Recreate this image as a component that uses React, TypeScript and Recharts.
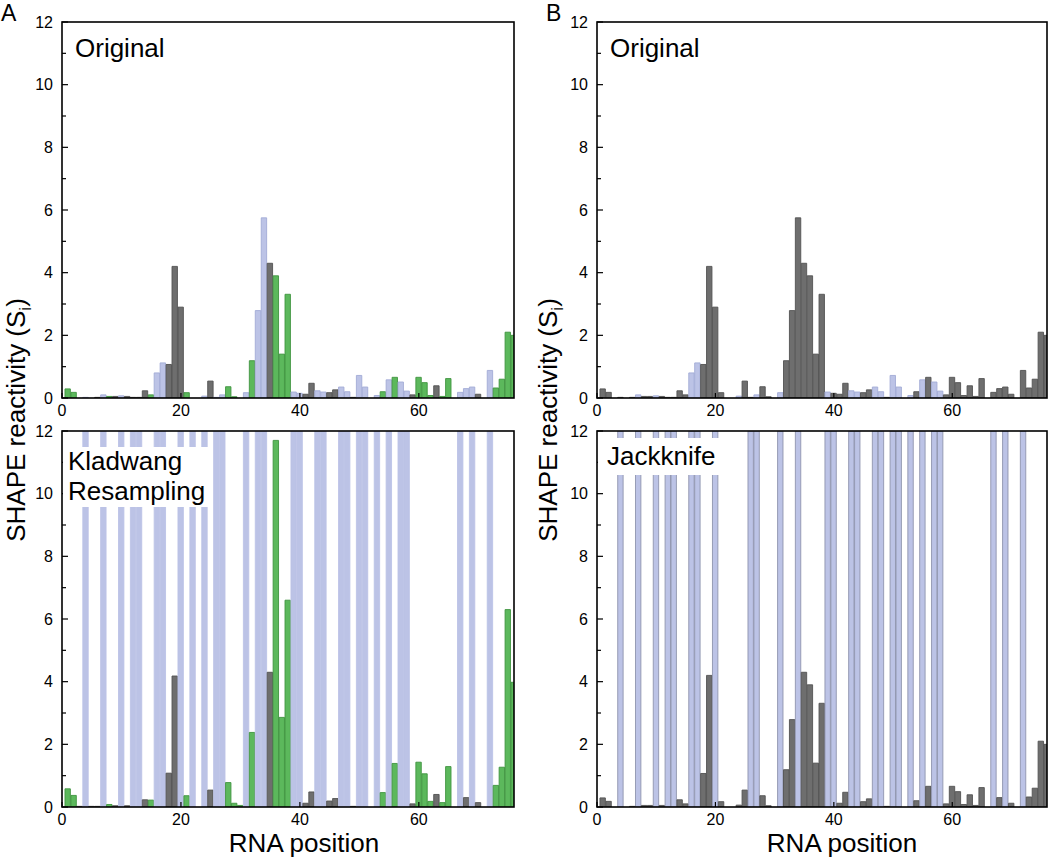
import React from 'react';
import { BarChart, Bar, XAxis, YAxis, Cell } from 'recharts';

// RNA positions (categories)
const positions = [
  1, 2, 3, 4, 5, 6, 7, 8, 9, 10,
  11, 12, 13, 14, 15, 16, 17, 18, 19, 20,
  21, 22, 23, 24, 25, 26, 27, 28, 29, 30,
  31, 32, 33, 34, 35, 36, 37, 38, 39, 40,
  41, 42, 43, 44, 45, 46, 47, 48, 49, 50,
  51, 52, 53, 54, 55, 56, 57, 58, 59, 60,
  61, 62, 63, 64, 65, 66, 67, 68, 69, 70,
  71, 72, 73, 74, 75, 76,
];

// Original SHAPE reactivity
const originalValues = [
  0.29, 0.18, 0, 0.02, 0, 0.02, 0.1, 0.05, 0.05, 0.07,
  0.05, 0.02, 0.02, 0.23, 0.1, 0.8, 1.12, 1.07, 4.2, 2.9,
  0.17, 0, 0, 0.06, 0.54, 0.02, 0.1, 0.36, 0.04, 0,
  0.17, 1.19, 2.79, 5.75, 4.3, 3.9, 1.4, 3.31, 0.19, 0.15,
  0.12, 0.47, 0.23, 0.19, 0.17, 0.26, 0.35, 0.2, 0.02, 0.72,
  0.35, 0, 0.08, 0.2, 0.58, 0.66, 0.51, 0.22, 0.1, 0.66,
  0.49, 0.08, 0.39, 0.05, 0.62, 0, 0.18, 0.3, 0.35, 0.12,
  0, 0.88, 0.32, 0.6, 2.1, 2.0,
];

// Kladwang resampling (blue bars run off the top of the axis)
const resamplingValues = [
  0.58, 0.37, 0.02, 12, 0.02, 0.02, 12, 0.08, 0.04, 12,
  0.04, 12, 12, 0.23, 0.22, 12, 12, 1.08, 4.18, 12,
  0.36, 12, 0, 12, 0.54, 12, 12, 0.78, 0.12, 0.05,
  12, 2.38, 12, 12, 4.3, 11.7, 2.86, 6.6, 12, 12,
  0.12, 0.48, 12, 12, 0.19, 0.27, 12, 12, 0.02, 12,
  12, 0, 12, 0.46, 12, 1.39, 12, 12, 0.1, 1.43,
  1.06, 0.18, 0.4, 0.14, 1.29, 0, 12, 0.3, 12, 0.14,
  0, 12, 0.69, 1.27, 6.3, 3.98,
];

// Jackknife
const jackknifeValues = [
  0.29, 0.18, 0, 12, 0, 0.02, 12, 0.05, 0.05, 12,
  0.05, 12, 12, 0.23, 0.1, 12, 12, 1.07, 4.2, 12,
  0.17, 0, 0, 0.06, 0.54, 12, 12, 0.36, 0.04, 0,
  12, 1.19, 2.79, 12, 4.3, 3.9, 1.4, 3.31, 12, 12,
  0.12, 0.47, 12, 12, 0.17, 0.26, 12, 12, 0.02, 12,
  12, 0, 12, 0.2, 12, 0.66, 12, 12, 0.1, 0.66,
  0.49, 0.08, 0.39, 0.05, 0.62, 0, 12, 0.3, 12, 0.12,
  0, 12, 0.32, 0.6, 2.1, 2.0,
];

// colour class per position: g = grey, b = light blue, G = green
const colorsOriginalA = ('GGgbggbGgb' + 'ggggGbbggg' + 'GggbgbbGGg' + 'bGbbgGGGbb' + 'ggbbggbbgb' + 'bgbGbGbbgG' + 'GGgGGgbbbg' + 'gbGGGG').split('');
const colorsOriginalB = ('ggggggbggb' + 'gggggbbggg' + 'gggbggbggg' + 'bgggggggbg' + 'ggbbggbbgb' + 'bgbgbgbbgg' + 'gggggggggg' + 'gggggg').split('');
const colorsResampling = ('GGgbggbGgb' + 'gbbgGbbggb' + 'GbgbgbbGGG' + 'bGbbgGGGbb' + 'ggbbggbbgb' + 'bgbGbGbbgG' + 'GGgGGgbgbg' + 'gbGGGG').split('');
const colorsJackknife = ('gggbggbggb' + 'gbbggbbggb' + 'gggggbbggg' + 'bggbggggbb' + 'ggbbggbbgb' + 'bgbgbgbbgg' + 'ggggggbgbg' + 'gbgggg').split('');

const xTicks = [0, 20, 40, 60];
const yTicks = [0, 1, 2, 3, 4, 5, 6, 7, 8, 9, 10, 11, 12];

const FONT = '"Liberation Sans", Arial, Helvetica, sans-serif';

const FILL: Record<string, string> = { g: '#6e6e6e', b: '#bcc3e6', G: '#5cb85c' };
const STROKE: Record<string, string> = { g: '#525252', b: '#a3abd6', G: '#3f943f' };

const CW = 530;
const CH = 430;

const XTick = (props: any) => {
  const { x, y, payload } = props;
  return (
    <g>
      <line x1={x} x2={x} y1={y} y2={y - 5} stroke="#000" strokeWidth={1.2} />
      <text x={x} y={y + 18} textAnchor="middle" fontSize={16} fontFamily={FONT} fill="#000">
        {payload.value}
      </text>
    </g>
  );
};

const YTick = (props: any) => {
  const { x, y, payload } = props;
  const major = payload.value % 2 === 0;
  return (
    <g>
      <line x1={x} x2={x + (major ? 6 : 4)} y1={y} y2={y} stroke="#000" strokeWidth={1.2} />
      {major && (
        <text x={x - 9} y={y + 5.5} textAnchor="end" fontSize={16} fontFamily={FONT} fill="#000">
          {payload.value}
        </text>
      )}
    </g>
  );
};

type PanelProps = {
  left: number;
  top: number;
  right: number;
  values: number[];
  codes: string[];
  blueStroke: string | null;
};

function Panel({ left, top, right, values, codes, blueStroke }: PanelProps) {
  const data = positions.map((p, i) => ({ pos: p, v: values[i], c: codes[i] }));
  return (
    <div style={{ position: 'absolute', left, top }}>
      <BarChart
        width={CW}
        height={CH}
        data={data}
        margin={{ top: 22, right, bottom: 0, left: 0 }}
        barSize={5.4}
      >
        <XAxis
          type="number"
          dataKey="pos"
          domain={[0, 76]}
          allowDataOverflow
          ticks={xTicks}
          interval={0}
          tick={<XTick />}
          tickLine={false}
          axisLine={false}
          tickSize={0}
          tickMargin={0}
          height={32}
        />
        <YAxis
          type="number"
          domain={[0, 12]}
          allowDataOverflow
          ticks={yTicks}
          interval={0}
          tick={<YTick />}
          tickLine={false}
          axisLine={false}
          tickSize={0}
          tickMargin={0}
          width={62}
        />
        <Bar dataKey="v" isAnimationActive={false}>
          {data.map((d, i) => {
            const stroke = d.c === 'b' ? (blueStroke ?? FILL.b) : STROKE[d.c];
            return <Cell key={i} fill={FILL[d.c]} stroke={stroke} strokeWidth={0.9} />;
          })}
        </Bar>
      </BarChart>
    </div>
  );
}

export default function App() {
  return (
    <div
      style={{
        position: 'absolute',
        left: 0,
        top: 0,
        width: 1050,
        height: 859,
        background: '#fff',
        fontFamily: FONT,
        overflow: 'hidden',
      }}
    >
      <Panel left={0} top={0} right={16} values={originalValues} codes={colorsOriginalA} blueStroke={'#a3abd6'} />
      <Panel left={0} top={409} right={16} values={resamplingValues} codes={colorsResampling} blueStroke={null} />
      <Panel left={535} top={0} right={18} values={originalValues} codes={colorsOriginalB} blueStroke={'#a3abd6'} />
      <Panel left={535} top={409} right={18} values={jackknifeValues} codes={colorsJackknife} blueStroke={'#8e94ae'} />

      <svg
        width={1050}
        height={859}
        style={{ position: 'absolute', left: 0, top: 0, pointerEvents: 'none' }}
        fontFamily={FONT}
      >
        {/* label boxes */}
        <rect x={63} y={447} width={146} height={60} fill="#fff" />
        <rect x={598} y={438} width={123} height={37} fill="#fff" />

        {/* frames */}
        <rect x={62} y={22} width={452} height={376} fill="none" stroke="#000" strokeWidth={1.6} />
        <rect x={62} y={431} width={452} height={376} fill="none" stroke="#000" strokeWidth={1.6} />
        <rect x={597} y={22} width={450} height={376} fill="none" stroke="#000" strokeWidth={1.6} />
        <rect x={597} y={431} width={450} height={376} fill="none" stroke="#000" strokeWidth={1.6} />

        {/* panel letters */}
        <text x={1} y={21} fontSize={23} fill="#000">A</text>
        <text x={546} y={21} fontSize={23} fill="#000">B</text>

        {/* in-panel labels */}
        <text x={75} y={57} fontSize={26} fill="#000">Original</text>
        <text x={610} y={57} fontSize={26} fill="#000">Original</text>
        <text x={68} y={470} fontSize={26} fill="#000">Kladwang</text>
        <text x={68} y={500} fontSize={26} fill="#000">Resampling</text>
        <text x={607} y={465} fontSize={26} fill="#000">Jackknife</text>

        {/* axis titles */}
        <text x={304} y={852} fontSize={26} textAnchor="middle" fill="#000">RNA position</text>
        <text x={842} y={852} fontSize={26} textAnchor="middle" fill="#000">RNA position</text>

        <text transform="translate(25,420) rotate(-90)" fontSize={26} textAnchor="middle" fill="#000">
          SHAPE reactivity (S<tspan fontSize={17} dy={6}>i</tspan><tspan dy={-6}>)</tspan>
        </text>
        <text transform="translate(557,420) rotate(-90)" fontSize={26} textAnchor="middle" fill="#000">
          SHAPE reactivity (S<tspan fontSize={17} dy={6}>i</tspan><tspan dy={-6}>)</tspan>
        </text>
      </svg>
    </div>
  );
}
